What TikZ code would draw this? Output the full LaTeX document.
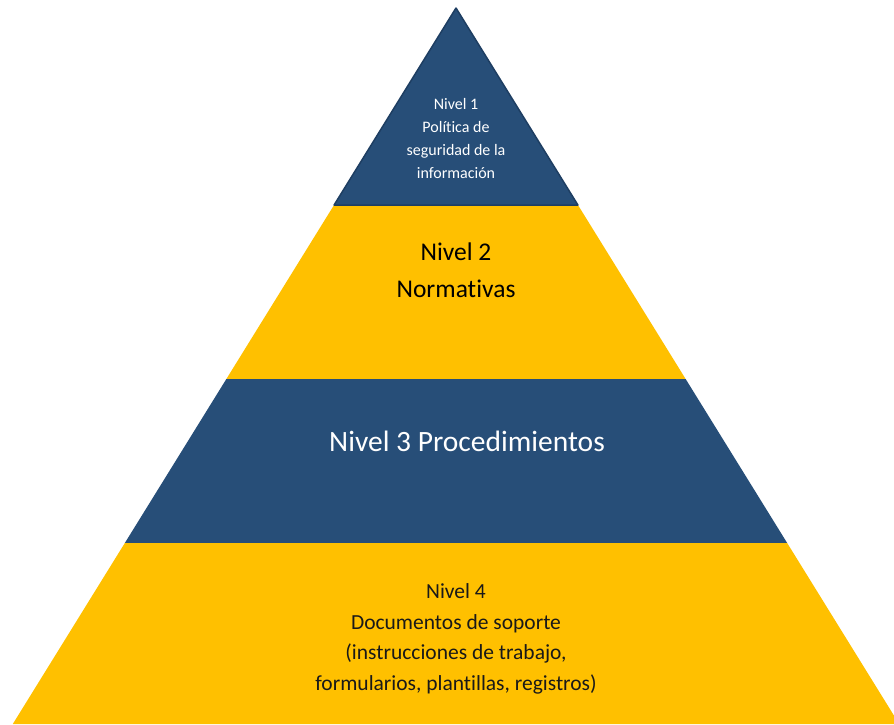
\documentclass[tikz,border=0pt]{standalone}
\usepackage{fontspec}
\setmainfont[Ligatures=NoCommon]{Carlito}
\definecolor{navy}{RGB}{39,78,120}
\definecolor{navyedge}{RGB}{30,62,98}
\definecolor{gold}{RGB}{255,192,0}
\tikzset{
  lvltext/.style={align=center, inner sep=0pt},
  smalltext/.style={lvltext, text=white, font=\fontsize{16}{23}\selectfont},
  midtext/.style={lvltext, text=black, font=\fontsize{25.5}{37}\selectfont},
  bigtext/.style={lvltext, text=white, font=\fontsize{29.5}{35}\selectfont},
  basetext/.style={lvltext, text=black!90, font=\fontsize{21.5}{30.5}\selectfont}
}
\begin{document}
\begin{tikzpicture}[x=1pt,y=-1pt]
        \useasboundingbox (0,0) rectangle (894,724);
        \clip (0,0) rectangle (894,724);

        % draw pyramid levels
        \foreach \ytop/\ybot/\lvlcolor in {8/205/navy,205/379/gold,379/543/navy,543/724/gold}
          \fill[\lvlcolor] ({456-0.619*(\ytop-8)},\ytop) -- ({456+0.619*(\ytop-8)},\ytop)
            -- ({456+0.619*(\ybot-8)},\ybot) -- ({456-0.619*(\ybot-8)},\ybot) -- cycle;

        % outline of the top
        \draw[navyedge, line width=1.5pt, line join=round] (456,8) -- (577.9,205) -- (334.1,205) -- cycle;

        % draw labels
        \node[smalltext] (lvlone) at (456,138) {Nivel 1\\Política de\\seguridad de la\\información};
        \node[midtext] (lvltwo) at (456,270) {Nivel 2\\Normativas};
        \node[bigtext] (lvlthree) at (467,441) {Nivel 3 Procedimientos};
        \node[basetext] (lvlfour) at (456,639) {Nivel 4\\Documentos de soporte\\(instrucciones de trabajo,\\formularios, plantillas, registros)};
        \end{tikzpicture}
\end{document}
